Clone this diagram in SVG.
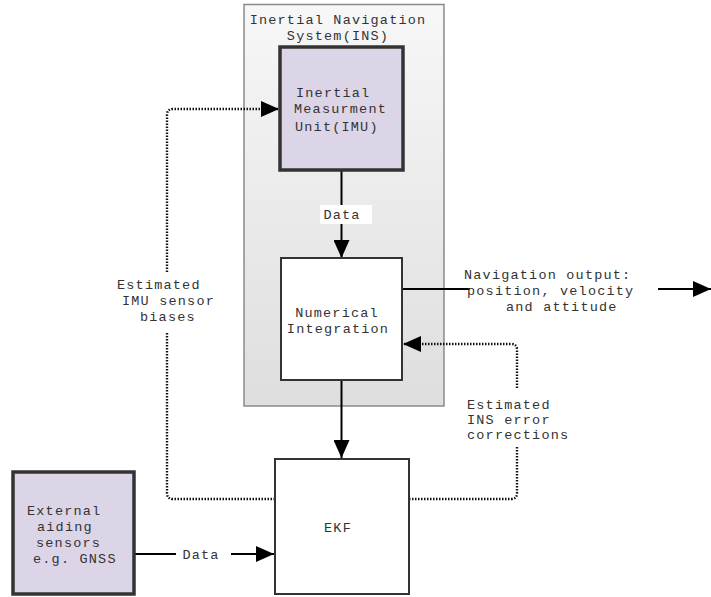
<svg xmlns="http://www.w3.org/2000/svg" width="711" height="597" viewBox="0 0 711 597">
<defs>
<linearGradient id="insGrad" x1="0" y1="0" x2="0" y2="1">
<stop offset="0" stop-color="#f7f7f7"/>
<stop offset="1" stop-color="#dedede"/>
</linearGradient>
<marker id="arr" viewBox="0 0 18 16" refX="18" refY="8" markerWidth="18" markerHeight="16" markerUnits="userSpaceOnUse" orient="auto">
<path d="M0,0 L18,8 L0,16 Z" fill="#000"/>
</marker>
</defs>
<style>
text{font-family:"Liberation Mono","Courier New",monospace;font-size:13.5px;letter-spacing:1.2px;fill:#333}
.c{text-anchor:middle}
.solid{fill:none;stroke:#000;stroke-width:2}
.dot{fill:none;stroke:#111;stroke-width:2.4;stroke-dasharray:1.5 1.5}
.lav{fill:#dcd5e8;stroke:#333;stroke-width:3.5}
.wht{fill:#fff;stroke:#333;stroke-width:2}
</style>
<rect width="711" height="597" fill="#fff"/>
<g id="ins">
<rect x="244" y="4.5" width="200" height="401.5" fill="url(#insGrad)" stroke="#8a8a8a" stroke-width="1.5"/>
<text class="c" x="338" y="24">Inertial Navigation</text>
<text class="c" x="338" y="40">System(INS)</text>
</g>
<g id="connectors">
<line class="solid" x1="341.5" y1="170" x2="341.5" y2="258" marker-end="url(#arr)"/>
<line class="solid" x1="341.5" y1="380" x2="341.5" y2="458" marker-end="url(#arr)"/>
<line class="solid" x1="134" y1="554" x2="274" y2="554" marker-end="url(#arr)"/>
<line class="solid" x1="402" y1="289" x2="470" y2="289"/>
<line class="solid" x1="658" y1="289" x2="711" y2="289" marker-end="url(#arr)"/>
<path class="dot" d="M275,499 L173,499 Q167,499 167,493 L167,332"/>
<path class="dot" d="M167,272 L167,115 Q167,109 173,109 L279,109" marker-end="url(#arr)"/>
<path class="dot" d="M409,499 L511,499 Q517,499 517,493 L517,447"/>
<path class="dot" d="M517,388 L517,350 Q517,344 511,344 L403,344" marker-end="url(#arr)"/>
<rect x="320" y="205" width="52" height="19" fill="#fff"/>
<text class="c" x="342" y="219">Data</text>
<rect x="176" y="545" width="55" height="19" fill="#fff"/>
<text class="c" x="201" y="559">Data</text>
<text x="464" y="279">Navigation output:</text>
<text x="467" y="295">position, velocity</text>
<text x="506" y="311">and attitude</text>
<text x="117" y="289">Estimated</text>
<text x="122" y="305">IMU sensor</text>
<text x="140" y="321">biases</text>
<text x="467" y="409">Estimated</text>
<text x="467" y="424">INS error</text>
<text x="467" y="439">corrections</text>
</g>
<g id="imu">
<rect class="lav" x="280" y="47" width="123" height="123"/>
<text x="296" y="97">Inertial</text>
<text x="294" y="113">Measurment</text>
<text x="295" y="131">Unit(IMU)</text>
</g>
<g id="numint">
<rect class="wht" x="281" y="258" width="121" height="122"/>
<text class="c" x="337" y="317">Numerical</text>
<text class="c" x="338" y="333">Integration</text>
</g>
<g id="ekf">
<rect class="wht" x="275" y="459" width="134" height="135"/>
<text class="c" x="338" y="532">EKF</text>
</g>
<g id="external">
<rect class="lav" x="13" y="472" width="121" height="122"/>
<text x="27" y="515">External</text>
<text x="37" y="531">aiding</text>
<text x="36" y="547">sensors</text>
<text x="33" y="563">e.g. GNSS</text>
</g>
</svg>
